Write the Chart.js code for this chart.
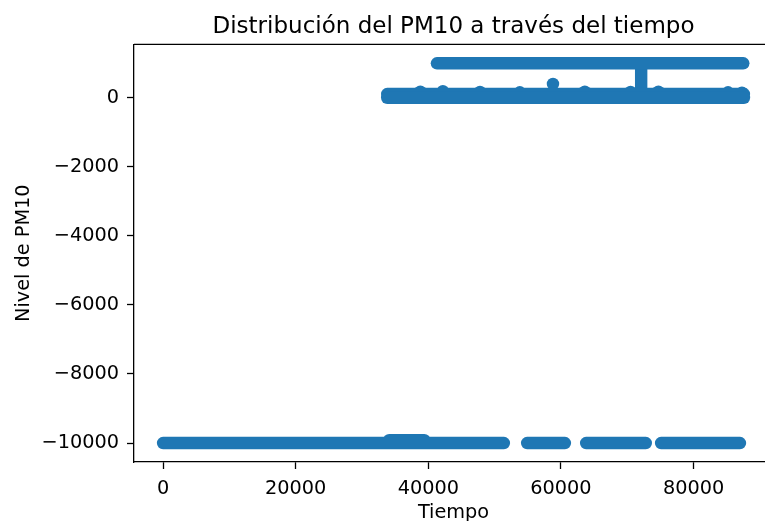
<!DOCTYPE html>
<html>
<head>
<meta charset="utf-8">
<title>PM10</title>
<script src="https://cdn.jsdelivr.net/npm/chart.js@4.4.0/dist/chart.umd.min.js"></script>
<style>
body { margin: 0; background: #fff; overflow: hidden; }
#wrap { width: 765px; height: 521px; overflow: hidden; }
</style>
</head>
<body>
<div id="wrap"><canvas id="chart" width="790" height="526"></canvas></div>
<script>
'use strict';
// streaks of points that merge into one thick run (x0,y0) -> (x1,y1)
var runX0 = [0, 54900, 63800, 75100, 34100, 33800, 33800, 41300, 72100];
var runX1 = [51400, 60600, 72800, 87000, 39400, 87600, 87600, 87500, 72100];
var runY0 = [-10000, -10000, -10000, -10000, -9920, 0, 110, 1000, 1000];
var runY1 = [-10000, -10000, -10000, -10000, -9920, 0, 110, 1000, 110];

// single points sticking out of the bands
var dotX = [38800, 42200, 47800, 53800, 58800, 63600, 70500, 74700, 85200, 87300];
var dotY = [180, 190, 170, 160, 400, 180, 170, 180, 160, 150];

var xTicks = [0, 20000, 40000, 60000, 80000];
var yTicks = [0, -2000, -4000, -6000, -8000, -10000];

var blue = '#1f77b4';
var font = 'DejaVu Sans';

var datasets = [];
for (var i = 0; i < runX0.length; i++) {
  datasets.push({
    data: [{x: runX0[i], y: runY0[i]}, {x: runX1[i], y: runY1[i]}],
    showLine: true,
    borderColor: blue,
    borderWidth: 12.4,
    borderCapStyle: 'round',
    borderJoinStyle: 'round',
    pointRadius: 0
  });
}
var dots = [];
for (var j = 0; j < dotX.length; j++) {
  dots.push({x: dotX[j], y: dotY[j]});
}
datasets.push({
  data: dots,
  backgroundColor: blue,
  borderWidth: 0,
  pointRadius: 6.2
});

function minus(v) {
  return v < 0 ? '\u2212' + (-v) : String(v);
}

var spines = {
  id: 'spines',
  afterDraw: function(chart) {
    var a = chart.chartArea;
    var ctx = chart.ctx;
    ctx.save();
    ctx.strokeStyle = '#000';
    ctx.lineWidth = 1.3;
    ctx.beginPath();
    ctx.moveTo(a.left, a.top);
    ctx.lineTo(a.right, a.top);
    ctx.lineTo(a.right, a.bottom);
    ctx.stroke();
    ctx.restore();
  }
};

new Chart(document.getElementById('chart'), {
  type: 'scatter',
  data: {datasets: datasets},
  plugins: [spines],
  options: {
    responsive: false,
    animation: false,
    layout: {padding: {left: 0, right: 17, top: 0, bottom: 0}},
    plugins: {
      legend: {display: false},
      tooltip: {enabled: false},
      title: {
        display: true,
        text: 'Distribución del PM10 a través del tiempo',
        color: '#000',
        fullSize: false,
        font: {family: font, size: 23, weight: 'normal'},
        padding: {top: 13, bottom: 3.7}
      }
    },
    scales: {
      x: {
        type: 'linear',
        min: -4380,
        max: 91980,
        afterFit: function(s) { s.height = 64; },
        afterBuildTicks: function(s) { s.ticks = xTicks.map(function(v) { return {value: v}; }); },
        grid: {display: true, drawOnChartArea: false, drawTicks: true, tickLength: 7, tickWidth: 1.3, tickColor: '#000'},
        border: {display: true, color: '#000', width: 1.3},
        ticks: {color: '#000', padding: 8, font: {family: font, size: 19.3}, maxRotation: 0, callback: function(v) { return String(v); }},
        title: {display: true, text: 'Tiempo', color: '#000', font: {family: font, size: 19.3}, padding: {top: 0, bottom: 1}}
      },
      y: {
        type: 'linear',
        min: -10550,
        max: 1550,
        afterFit: function(s) { s.width = 134; },
        afterBuildTicks: function(s) { s.ticks = yTicks.map(function(v) { return {value: v}; }); },
        grid: {display: true, drawOnChartArea: false, drawTicks: true, tickLength: 7, tickWidth: 1.3, tickColor: '#000'},
        border: {display: true, color: '#000', width: 1.3},
        ticks: {color: '#000', padding: 8, font: {family: font, size: 19.3}, callback: minus},
        title: {display: true, text: 'Nivel de PM10', color: '#000', font: {family: font, size: 19.3}, padding: {top: 12, bottom: 0}}
      }
    }
  }
});
</script>
</body>
</html>
